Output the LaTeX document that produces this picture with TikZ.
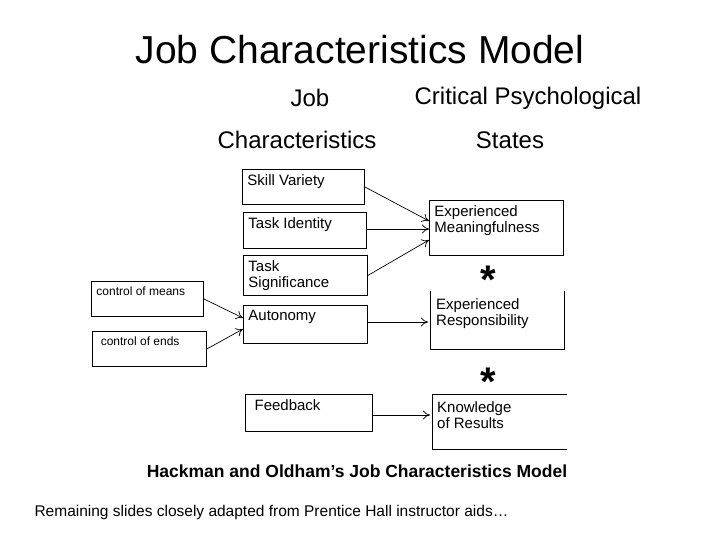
\documentclass[tikz,border=0pt]{standalone}
\usepackage{fontspec}
\setmainfont{Liberation Sans}
\usetikzlibrary{arrows.meta}
\begin{document}
\begin{tikzpicture}[x=1pt,y=-1pt,
  bx/.style={draw=black,line width=0.9pt,anchor=north west,inner sep=0pt,font=\fontsize{15}{16.5}\selectfont},
  ar/.style={-{To[length=7pt,width=9pt]},line width=0.7pt},
  nb/.style={anchor=north west,inner sep=0pt,font=\fontsize{15}{16.5}\selectfont}]
\useasboundingbox (0,0) rectangle (720,540);
\newcommand{\bt}[3]{\parbox[t][#2pt][t]{#1pt}{\hspace*{5pt}\parbox[t]{#1pt}{\vspace*{5pt}#3}}}
\node[anchor=center,font=\fontsize{39}{42}\selectfont] (title) at (360,50) {Job Characteristics Model};
\node[font=\fontsize{24}{26}\selectfont] (h1) at (310,98) {Job};
\node[font=\fontsize{24}{26}\selectfont] (h2) at (297,140) {Characteristics};
\node[font=\fontsize{24}{26}\selectfont] (h3) at (528,98) {Critical Psychological};
\node[font=\fontsize{24}{26}\selectfont] (h4) at (510,140) {States};
\node[bx] (sv) at (242,169) {\bt{122}{35}{Skill Variety}};
\node[bx] (ti) at (243,212) {\bt{123}{36}{Task Identity}};
\node[bx] (ts) at (243,255) {\bt{124}{40}{Task\\Significance}};
\node[bx] (cm) at (91,281) {\bt{112}{35}{\fontsize{12}{13}\selectfont control of means}};
\node[bx] (ce) at (92,331) {\bt{114}{35}{\fontsize{12}{13}\selectfont\ control of ends}};
\node[bx] (au) at (243,305) {\bt{124}{38}{Autonomy}};
\node[bx] (fb) at (245,394) {\bt{127}{37}{\ Feedback}};
\node[bx] (em) at (429,200) {\bt{134}{55}{Experienced\\Meaningfulness}};
\draw[line width=0.9pt] (430,291) -- (430,349) -- (564,349) -- (564,291);
\node[nb] (er) at (436,298) {\parbox[t]{125pt}{Experienced\\Responsibility}};
\draw[line width=0.9pt] (567,394) -- (432,394) -- (432,449) -- (567,449);
\node[nb] (kr) at (437,401) {\parbox[t]{125pt}{Knowledge\\of Results}};
\coordinate (em1) at (429,221);
\coordinate (em2) at (429,229);
\coordinate (em3) at (429,240);
\coordinate (au1) at (243,318);
\coordinate (au2) at (243,329);
\coordinate (erw) at (428,322);
\coordinate (krw) at (430,415);
\node[inner sep=0pt,font=\fontsize{40}{40}\selectfont\bfseries] (s1) at (488,280) {*};
\node[inner sep=0pt,font=\fontsize{40}{40}\selectfont\bfseries] (s2) at (488,382) {*};
\draw[ar] (sv.east) -- (em1);
\draw[ar] (ti.east |- em2) -- (em2);
\draw[ar] (ts.east) -- (em3);
\draw[ar] (cm.east) -- (au1);
\draw[ar] (ce.east) -- (au2);
\draw[ar] (au.east |- erw) -- (erw);
\draw[ar] (fb.east |- krw) -- (krw);
\node[font=\fontsize{17.5}{19}\selectfont\bfseries] (cap) at (357,471) {Hackman and Oldham's Job Characteristics Model};
\node[anchor=west,font=\fontsize{15.5}{17}\selectfont] (foot) at (31,512) {Remaining slides closely adapted from Prentice Hall instructor aids…};
\end{tikzpicture}
\end{document}
